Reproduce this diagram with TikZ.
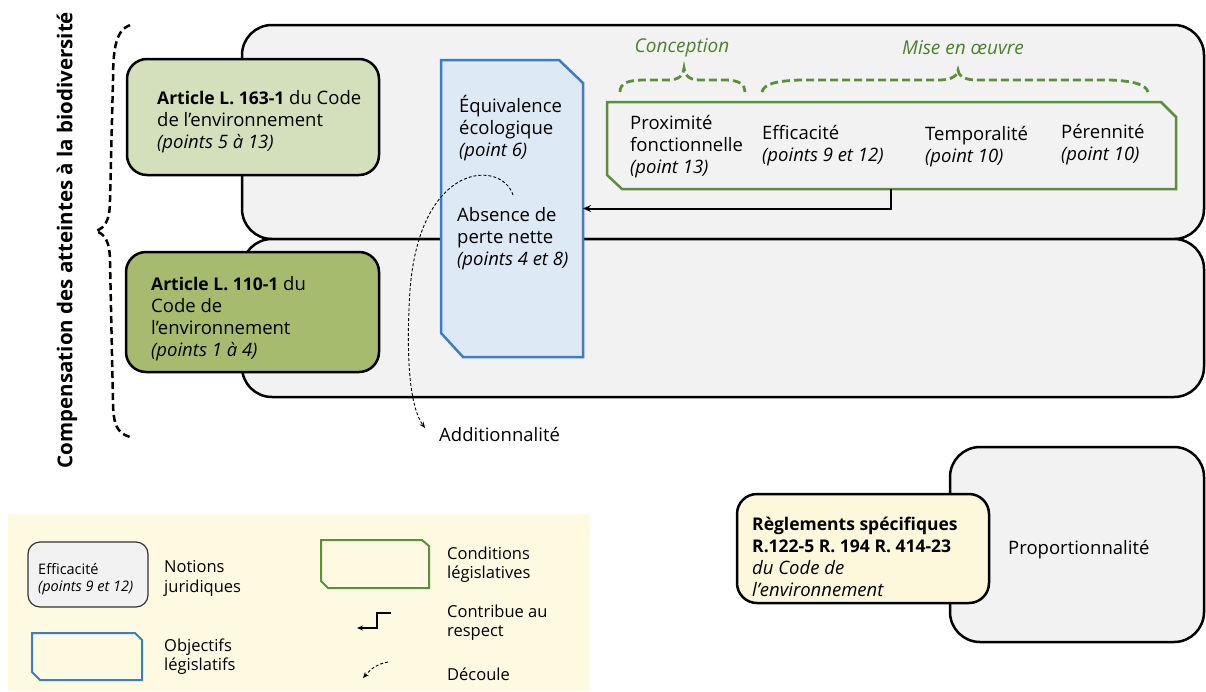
\documentclass[tikz,border=0pt]{standalone}
\usepackage{fontspec}
\setmainfont{Open Sans}
\usetikzlibrary{arrows.meta}
\definecolor{bggray}{HTML}{F2F2F2}
\definecolor{lgreen}{HTML}{D4E0BB}
\definecolor{dgreen}{HTML}{A6BB6D}
\definecolor{bluefill}{HTML}{DEE9F6}
\definecolor{blueline}{HTML}{3C7DC4}
\definecolor{greenline}{HTML}{5B8F3A}
\definecolor{greentext}{HTML}{4E7F2E}
\definecolor{legendbg}{HTML}{FEF9E1}
\definecolor{yellowbox}{HTML}{FDF7DC}
\newcommand{\mainsz}{\fontsize{18.5}{22}\selectfont}
\newcommand{\legsz}{\fontsize{16.5}{19.5}\selectfont}
\newcommand{\smallsz}{\fontsize{14.5}{17.5}\selectfont}
\newcommand{\bd}[1]{{\fontsize{17.5}{22}\selectfont\bfseries #1}}
\begin{document}
\begin{tikzpicture}[x=1pt,y=-1pt,
  bigbox/.style={draw=black, line width=2.5pt, fill=bggray, rounded corners=30pt, inner sep=0pt, outer sep=0pt},
  artbox/.style={draw=black, line width=2.5pt, rounded corners=20pt, inner sep=0pt, outer sep=0pt},
  ghost/.style={inner sep=0pt, outer sep=0pt},
  txt/.style={anchor=west, align=left, inner sep=0pt, font=\mainsz, yshift=-2.5pt},
  legtxt/.style={anchor=west, align=left, inner sep=0pt, font=\legsz, yshift=-2.5pt},
  bluepath/.style={draw=blueline, line width=2.5pt, fill=bluefill, line join=miter},
  greenpath/.style={draw=greenline, line width=2.5pt, line join=miter},
  gbrace/.style={draw=greenline, line width=2.8pt, dash pattern=on 8pt off 4pt},
  kbrace/.style={draw=black, line width=2.5pt, dash pattern=on 7pt off 4pt},
  contrib/.style={draw=black, line width=2pt, -{Stealth[length=8pt,width=7pt]}},
  decoule/.style={draw=black, line width=0.9pt, dash pattern=on 3pt off 2pt, -{Stealth[length=6pt,width=5pt]}},
]
\useasboundingbox (0,0) rectangle (1206,691);

% big gray boxes
\node[bigbox, minimum width=962pt, minimum height=214pt] (top) at (723,132) {};
\node[bigbox, minimum width=962pt, minimum height=158pt] (bottom) at (723,318) {};

% article boxes
\node[artbox, fill=lgreen, minimum width=252pt, minimum height=116pt] (art1box) at (253,117) {};
\node[txt] (art1) at (157,119) {\bd{Article L. 163-1} du Code\\de l’environnement\\\textit{(points 5 à 13)}};
\node[artbox, fill=dgreen, minimum width=253pt, minimum height=120pt] (art2box) at (252.5,312) {};
\node[txt] (art2) at (151,316) {\bd{Article L. 110-1} du\\Code de\\l’environnement\\\textit{(points 1 à 4)}};

% left brace and title
\draw[kbrace] (130,25) .. controls (117,30) and (113,45) .. (113,80) -- (110,200)
  .. controls (110,222) and (104,228) .. (96,231)
  .. controls (104,234) and (110,240) .. (110,262) -- (113,400)
  .. controls (113,425) and (117,433) .. (130,437);
\node[rotate=90, inner sep=0pt, font=\bfseries\fontsize{20.5}{24}\selectfont] (title) at (67,240) {Compensation des atteintes à la biodiversité};

% blue objective box
\node[ghost, minimum width=142pt, minimum height=297pt] (blue) at (512,208.5) {};
\draw[bluepath] (blue.north west) -- ([xshift=-24pt]blue.north east) -- ([yshift=-23pt]blue.north east)
  -- (blue.south east) -- ([xshift=22pt]blue.south west) -- ([yshift=24pt]blue.south west) -- cycle;
\node[txt] (equiv) at (459,126) {Équivalence\\écologique\\\textit{(point 6)}};
\node[txt] (absence) at (457,236) {Absence de\\perte nette\\\textit{(points 4 et 8)}};

% green conditions box
\node[ghost, minimum width=569pt, minimum height=87pt] (green) at (891.5,145.5) {};
\draw[greenpath] (green.north west) -- ([xshift=-15pt]green.north east) -- ([yshift=-15pt]green.north east)
  -- (green.south east) -- ([xshift=15pt]green.south west) -- ([yshift=14pt]green.south west) -- cycle;
\node[txt] (proxi) at (630,144) {Proximité\\fonctionnelle\\\textit{(point 13)}};
\node[txt] (effi) at (762,143) {Efficacité\\\textit{(points 9 et 12)}};
\node[txt] (tempo) at (925,144) {Temporalité\\\textit{(point 10)}};
\node[txt] (peren) at (1061,142) {Pérennité\\\textit{(point 10)}};

% green braces
\node[inner sep=0pt, font=\itshape\fontsize{19}{22}\selectfont, text=greentext] (concep) at (682,48) {Conception};
\node[inner sep=0pt, font=\itshape\fontsize{19}{22}\selectfont, text=greentext] (mise) at (963,48) {Mise en œuvre};
\draw[gbrace] (620,92) .. controls (620,83) and (628,80) .. (645,80) -- (668,80)
  .. controls (679,80) and (684,75) .. (684,68)
  .. controls (684,75) and (689,80) .. (700,80) -- (725,80)
  .. controls (740,80) and (745,85) .. (745,92);
\draw[gbrace] (762,92) .. controls (764,84) and (775,81) .. (800,80) -- (940,80)
  .. controls (952,80) and (958,75) .. (958,70)
  .. controls (958,75) and (964,80) .. (976,80) -- (1110,80)
  .. controls (1135,81) and (1146,85) .. (1148,92);

% contribue arrow
\coordinate (ax) at (891,0);
\draw[contrib] (green.south -| ax) |- (blue.east);

% decoule arrow
\node[txt] (addi) at (439,432) {Additionnalité};
\draw[decoule] (513,195) .. controls (502,160) and (420,160) .. (410,290)
  .. controls (405,370) and (412,410) .. (425,428);

% bottom right
\node[bigbox, minimum width=254pt, minimum height=195pt] (propbox) at (1077,544.5) {};
\node[txt] (prop) at (1008,547) {Proportionnalité};
\node[artbox, fill=yellowbox, minimum width=252pt, minimum height=109pt] (regbox) at (863,548.5) {};
\node[txt] (reg) at (752,554) {\bd{Règlements spécifiques}\\\bd{R.122-5 R. 194 R. 414-23}\\\textit{du Code de}\\\textit{l’environnement}};

% legend
\fill[legendbg] (8,514) rectangle (590,691);
\node[draw=black!80, line width=1.2pt, fill=bggray, rounded corners=12pt, minimum width=120pt, minimum height=65pt, inner sep=0pt] (legnot) at (88,574.5) {};
\node[anchor=west, align=left, inner sep=0pt, font=\smallsz, yshift=-2pt] (legnottxt) at (38,577) {Efficacité\\\textit{(points 9 et 12)}};
\node[legtxt] (l1) at (164,576) {Notions\\juridiques};
\node[ghost, minimum width=110pt, minimum height=47pt] (legblue) at (87,656.5) {};
\draw[draw=blueline, line width=2pt] (legblue.north west) -- ([xshift=-7pt]legblue.north east) -- ([yshift=-7pt]legblue.north east)
  -- (legblue.south east) -- ([xshift=8pt]legblue.south west) -- ([yshift=8pt]legblue.south west) -- cycle;
\node[legtxt] (l2) at (164,654) {Objectifs\\législatifs};
\node[ghost, minimum width=108pt, minimum height=48pt] (leggreen) at (375,564) {};
\draw[draw=greenline, line width=2pt] (leggreen.north west) -- ([xshift=-7pt]leggreen.north east) -- ([yshift=-6pt]leggreen.north east)
  -- (leggreen.south east) -- ([xshift=7pt]leggreen.south west) -- ([yshift=7pt]leggreen.south west) -- cycle;
\node[legtxt] (l3) at (447,562) {Conditions\\législatives};
\coordinate (c1) at (391,613);
\coordinate (c2) at (357,628);
\draw[draw=black, line width=1.5pt, -{Stealth[length=6pt,width=5pt]}] (c1) -- (377,613) -- (377,628) -- (c2);
\node[legtxt] (l4) at (447,620) {Contribue au\\respect};
\coordinate (d1) at (388,662);
\coordinate (d2) at (363,678);
\draw[draw=black, line width=0.9pt, dash pattern=on 3pt off 2pt, -{Stealth[length=6pt,width=5pt]}] (d1) .. controls (376,664) and (370,670) .. (d2);
\node[legtxt] (l5) at (447,672) {Découle};
\end{tikzpicture}
\end{document}
